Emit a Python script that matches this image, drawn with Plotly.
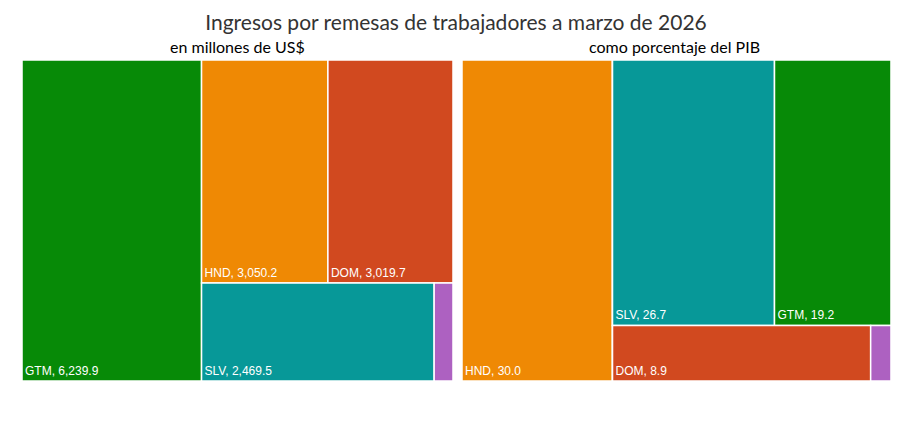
import plotly.graph_objects as go

# remesas, acumulado enero-marzo 2026
paises_usd = ['GTM', 'HND', 'DOM', 'SLV', 'CRI']
valores_usd = [6239.9, 3050.2, 3019.7, 2469.5, 200.0]

paises_pib = ['HND', 'SLV', 'GTM', 'DOM', 'CRI']
valores_pib = [30.0, 26.7, 19.2, 8.9, 0.7]

colores = {'GTM': '#078a07', 'HND': '#ef8904', 'DOM': '#d1491f', 'SLV': '#079898', 'CRI': '#ad61c1'}

def etiquetas(paises, valores):
    out = []
    for p, v in zip(paises, valores):
        if p == 'CRI':
            out.append('')
        else:
            out.append(f'{p}, {v:,.1f}')
    return out

def treemap(ids, labels, parents, valores, textos, cols, dom_x, sort=True):
    return go.Treemap(
        ids=ids, labels=labels, parents=parents, values=valores,
        text=textos, texttemplate='%{text}',
        textposition='bottom left', sort=sort,
        marker=dict(colors=cols, line=dict(color='white', width=1.5),
                    pad=dict(t=0, l=0, r=0, b=0)),
        textfont=dict(family='Liberation Sans, Arial', size=12, color='white'),
        pathbar=dict(visible=False), tiling=dict(pad=0),
        domain=dict(x=dom_x, y=[0.114, 0.8765]),
        hoverinfo='label+value',
    )

fig = go.Figure()
fig.add_trace(treemap(paises_usd, paises_usd, [''] * len(paises_usd), valores_usd,
                      etiquetas(paises_usd, valores_usd), [colores[p] for p in paises_usd],
                      [0.0154, 0.489]))

# derecha: HND, luego bloque resto (fila1 arriba, fila2 abajo) para que quede como el original
ids_pib = ['HND', 'resto', 'fila1', 'fila2', 'SLV', 'GTM', 'DOM', 'CRI']
padres_pib = ['', '', 'resto', 'resto', 'fila1', 'fila1', 'fila2', 'fila2']
vals_pib = [valores_pib[0], 0, 0, 0] + valores_pib[1:]
textos_pib = [etiquetas(paises_pib, valores_pib)[0], '', '', ''] + etiquetas(paises_pib, valores_pib)[1:]
cols_pib = [colores['HND'], 'white', 'white', 'white'] + [colores[p] for p in paises_pib[1:]]
labels_pib = ['HND', '', ' ', '  '] + paises_pib[1:]
fig.add_trace(treemap(ids_pib, labels_pib, padres_pib, vals_pib, textos_pib, cols_pib,
                      [0.4989, 0.9703], sort=False))

fig.update_layout(
    width=910, height=421,
    margin=dict(l=0, r=0, t=0, b=0),
    paper_bgcolor='white',
    title=dict(text='Ingresos por remesas de trabajadores a marzo de 2026', x=0.4923, y=0.966,
               xanchor='center', yanchor='middle',
               font=dict(family='Lato, Noto Sans', size=21, color='#333333')),
    font=dict(family='Lato, Noto Sans'),
    annotations=[
        dict(text='en millones de US$', x=0.2527, y=0.9074, xref='paper', yref='paper',
             showarrow=False, xanchor='center', yanchor='middle',
             font=dict(family='Lato, Noto Sans', size=16, color='black')),
        dict(text='como porcentaje del PIB', x=0.7324, y=0.9074, xref='paper', yref='paper',
             showarrow=False, xanchor='center', yanchor='middle',
             font=dict(family='Lato, Noto Sans', size=16, color='black')),
    ],
)

fig.write_html("out.html")
